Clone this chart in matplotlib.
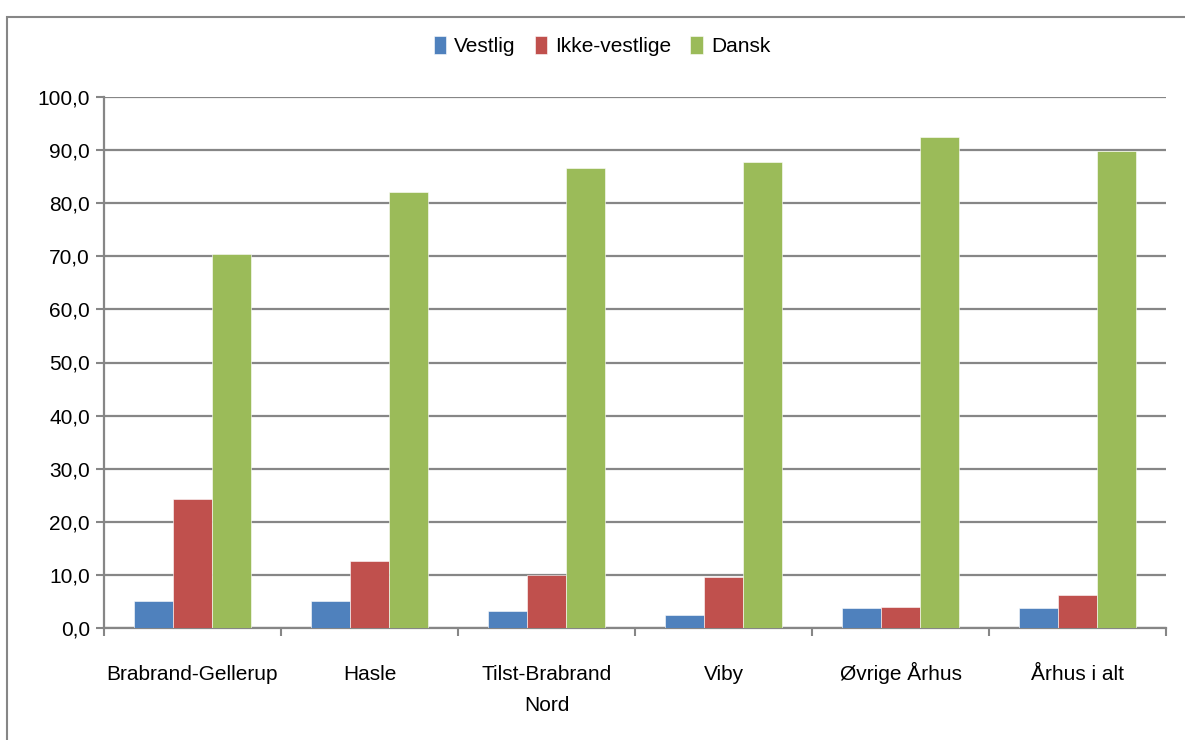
import matplotlib
matplotlib.use("Agg")
import matplotlib.pyplot as plt
import numpy as np

categories = ["Brabrand-Gellerup", "Hasle", "Tilst-Brabrand\nNord", "Viby", "Øvrige Århus", "Århus i alt"]
vestlig = [5.1, 5.1, 3.2, 2.4, 3.7, 3.7]
ikke_vestlige = [24.3, 12.7, 10.0, 9.6, 4.0, 6.2]
dansk = [70.5, 82.2, 86.6, 87.7, 92.4, 89.9]
series_names = ["Vestlig", "Ikke-vestlige", "Dansk"]
yticks = [0, 10, 20, 30, 40, 50, 60, 70, 80, 90, 100]

plt.rcParams['font.family'] = ['Liberation Sans', 'DejaVu Sans']

W, H = 1185, 740
fig = plt.figure(figsize=(W/100, H/100), dpi=100)
ax = fig.add_axes([104/W, 1-628/H, (1166-104)/W, (628-97)/H])

colors = ["#4F81BD", "#C0504D", "#9BBB59"]
x = np.arange(len(categories))
bw = 0.222
for i, (vals, c, n) in enumerate(zip([vestlig, ikke_vestlige, dansk], colors, series_names)):
    ax.bar(x + (i-1)*bw, vals, width=bw, color=c, label=n, zorder=3, edgecolor='white', linewidth=0.4)

ax.set_xlim(-0.5, len(categories)-0.5)
ax.set_ylim(0, 100)
ax.set_yticks(yticks)
ax.set_yticklabels([f"{v:.1f}".replace('.', ',') for v in yticks], fontsize=15)
ax.yaxis.grid(True, color="#868686", linewidth=1.6, zorder=0)
ax.set_axisbelow(True)
ax.set_xticks(np.arange(-0.5, len(categories)))
ax.set_xticklabels([])
ax.tick_params(axis='x', which='major', length=6, color="#868686", width=1.5, direction='out')
ax.tick_params(axis='y', length=6, color="#868686", width=1.5, direction='out', pad=4)
for s in ['top', 'right']:
    ax.spines[s].set_visible(False)
for s in ['left', 'bottom']:
    ax.spines[s].set_color("#868686")
    ax.spines[s].set_linewidth(1.6)

# category labels, baseline aligned
tr = ax.get_xaxis_transform()
ax_h = 628 - 97
for xi, lab in zip(x, categories):
    for li, line in enumerate(lab.split("\n")):
        base_px = 680 + li * 31
        ax.text(xi, -(base_px - 628) / ax_h, line, transform=tr, ha='center', va='baseline',
                fontsize=15, clip_on=False)

leg = fig.legend(loc='center', bbox_to_anchor=(602/W, 1-46/H), ncol=3, frameon=False,
                 fontsize=15, handlelength=0.6, handleheight=1.0, handletextpad=0.4,
                 columnspacing=0.9)

# outer chart frame
fig.patches.append(plt.Rectangle((7/W, -0.1), 1.2, 1.1-17/H, transform=fig.transFigure,
                                 fill=False, edgecolor="#868686", linewidth=1.5))
fig.savefig("out.png", dpi=100)
